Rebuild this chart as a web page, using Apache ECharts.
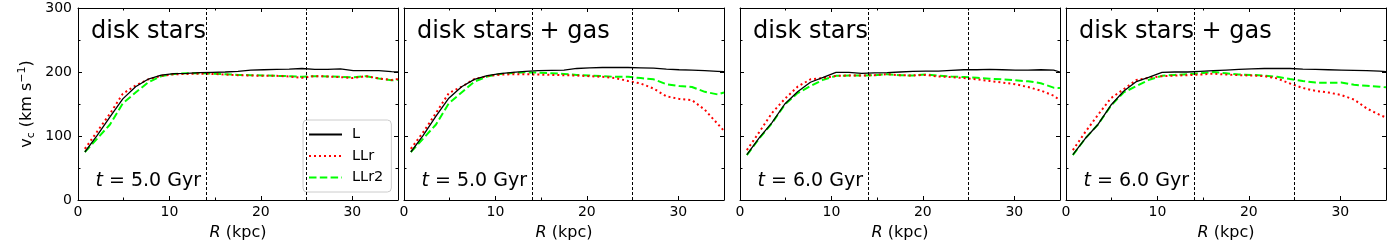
<!DOCTYPE html>
<html>
<head>
<meta charset="utf-8">
<script src="https://cdn.jsdelivr.net/npm/echarts@6/dist/echarts.min.js"></script>
<style>
html,body{margin:0;padding:0;background:#fff;}
#chart{width:1400px;height:250px;}
</style>
</head>
<body>
<div id="chart"></div>
<script>
// ---- data ----
const R = [0.75, 2.1, 3.5, 4.9, 6.3, 7.7, 9.1, 10.5, 11.9, 13.3, 14.7, 16.1, 17.5, 18.9, 20.3, 21.7, 23.1, 24.5, 25.9, 27.3, 28.7, 30.1, 31.5, 32.9, 34.3, 35];

const panelTitles = ['disk stars', 'disk stars + gas', 'disk stars', 'disk stars + gas'];
const panelTimes = ['5.0', '5.0', '6.0', '6.0'];
const seriesNames = ['L', 'LLr', 'LLr2'];
const boundaries = [14, 25];
const xTickValues = [0, 10, 20, 30];
const xMinorValues = [5, 15, 25];

// panel 1: t = 5.0 Gyr, disk stars
const p1_L    = [75, 101, 130, 158, 177, 189, 195, 197.5, 198, 199, 199.5, 200, 201, 203, 203.5, 204, 204.5, 205.5, 204, 204, 205, 202, 202, 202, 200.5, 200];
const p1_LLr  = [80, 107, 135, 166, 179, 188.5, 194, 196.5, 197, 197.5, 197, 196, 195, 194.5, 194, 194, 193, 191, 193.5, 193, 192, 190.5, 193.5, 190, 187.5, 189];
const p1_LLr2 = [75, 96, 118, 151, 168, 184, 193.5, 197, 198, 198, 197.5, 196.5, 195.5, 195, 194.5, 194, 193.5, 192.5, 193.5, 193, 192.5, 191.5, 193.5, 190, 187, 188];

// panel 2: t = 5.0 Gyr, disk stars + gas
const p2_L    = [75, 101, 131, 159, 177, 188.5, 194.5, 197.5, 199.5, 201, 202, 202.5, 203, 205.5, 206.5, 207, 207.3, 207, 206.5, 206, 204.5, 203.5, 203, 202, 201, 200.5];
const p2_LLr  = [80, 106, 136, 167, 177, 189, 193.5, 196, 196.5, 196.5, 196, 195.5, 195, 194.5, 193.5, 192.5, 190.5, 186, 182, 174, 162, 158, 156, 141, 119, 108];
const p2_LLr2 = [75, 96, 118, 151, 168, 185, 193, 197, 198.5, 199.5, 199, 198, 197, 195.5, 194.5, 193.5, 192.5, 192.5, 190.5, 188.5, 181, 178, 176.5, 169, 165, 168];

// panel 3: t = 6.0 Gyr, disk stars
const p3_L    = [71, 97, 121, 150, 169, 184, 191.5, 199.5, 199.5, 198, 198.5, 199, 200, 201, 201.5, 201.5, 202.5, 203.5, 203.5, 204, 203.5, 203, 203, 203.5, 203, 200];
const p3_LLr  = [78, 106, 136, 158, 177, 188.5, 190.5, 194, 194.5, 194.5, 195, 196.5, 195, 194.5, 195.5, 193, 192, 190.5, 188.5, 186, 183.5, 181, 176.5, 171, 163, 156];
const p3_LLr2 = [70, 96, 120, 149, 167, 178, 188, 194, 194.5, 194.5, 195, 196.5, 195, 194.5, 196, 194.5, 193, 192, 191, 189.5, 188.5, 187, 185.5, 182.5, 175.5, 175];

// panel 4: t = 6.0 Gyr, disk stars + gas
const p4_L    = [71, 96, 118, 148, 170, 185, 192, 199.5, 200, 200, 201, 202, 203, 204, 205, 205.5, 205.5, 205.5, 204.5, 204, 203.5, 203, 202.5, 202, 201.5, 200.5];
const p4_LLr  = [78, 106, 133, 159, 173, 187.5, 191, 193.5, 194.5, 195, 196, 197.5, 196, 195, 194.5, 193.5, 190, 182, 175, 170.5, 168, 164, 157, 143, 133, 129];
const p4_LLr2 = [70, 96, 118, 147, 168, 178, 188, 194, 195.5, 196.5, 198, 200, 198, 196, 195.5, 194.5, 192.5, 189, 186, 183.5, 183, 183.5, 180, 178.5, 177, 176];

const panelData = [
  [p1_L, p1_LLr, p1_LLr2],
  [p2_L, p2_LLr, p2_LLr2],
  [p3_L, p3_LLr, p3_LLr2],
  [p4_L, p4_LLr, p4_LLr2]
];

// ---- layout / style ----
const FONT = 'DejaVu Sans';
const gridLefts = [78, 404, 740, 1066];
const gridW = 320;
const gridTop = 8;
const gridH = 192;
const colors = ['#000000', '#ff0000', '#00ff00'];
const lineTypes = ['solid', [2, 3], [7.5, 3.3]];
const lineWidths = [1.3, 2, 2];

const grids = [], xAxes = [], yAxes = [], series = [], titles = [];

gridLefts.forEach((left, g) => {
  grids.push({left: left, top: gridTop, width: gridW, height: gridH, containLabel: false});
  const baseX = {type: 'value', gridIndex: g, min: 0, max: 35, splitLine: {show: false}};
  // bottom major
  xAxes.push(Object.assign({}, baseX, {
    position: 'bottom',
    axisLine: {show: true, onZero: false, lineStyle: {color: '#000', width: 1}},
    axisTick: {show: true, inside: true, length: 4, customValues: xTickValues, lineStyle: {color: '#000'}},
    axisLabel: {show: true, customValues: xTickValues, margin: 5, color: '#000', fontSize: 14, fontFamily: FONT},
    name: '{i|R} (kpc)', nameLocation: 'middle', nameGap: 25,
    nameTextStyle: {color: '#000', fontSize: 16, fontFamily: FONT, rich: {i: {fontStyle: 'italic', fontSize: 16, fontFamily: FONT, color: '#000'}}}
  }));
  // bottom minor
  xAxes.push(Object.assign({}, baseX, {
    position: 'bottom',
    axisLine: {show: false, onZero: false},
    axisTick: {show: true, inside: true, length: 2.5, customValues: xMinorValues, lineStyle: {color: '#000'}},
    axisLabel: {show: false}
  }));
  // top major
  xAxes.push(Object.assign({}, baseX, {
    position: 'top',
    axisLine: {show: true, onZero: false, lineStyle: {color: '#000', width: 1}},
    axisTick: {show: true, inside: true, length: 4, customValues: xTickValues, lineStyle: {color: '#000'}},
    axisLabel: {show: false}
  }));
  // top minor
  xAxes.push(Object.assign({}, baseX, {
    position: 'top',
    axisLine: {show: false, onZero: false},
    axisTick: {show: true, inside: true, length: 2.5, customValues: xMinorValues, lineStyle: {color: '#000'}},
    axisLabel: {show: false}
  }));

  const baseY = {type: 'value', gridIndex: g, min: 0, max: 300, interval: 100, splitLine: {show: false},
    axisLine: {show: true, onZero: false, lineStyle: {color: '#000', width: 1}},
    axisTick: {show: true, inside: true, length: 4, lineStyle: {color: '#000'}},
    minorTick: {show: true, splitNumber: 2, length: 2.5, lineStyle: {color: '#000'}},
    minorSplitLine: {show: false}
  };
  yAxes.push(Object.assign({}, baseY, {
    position: 'left',
    axisLabel: {show: g === 0, margin: 6, color: '#000', fontSize: 14, fontFamily: FONT},
    name: g === 0 ? '{m|v}{s|c}{m| (km s}{p|−1}{m|)}' : '',
    nameLocation: 'middle', nameRotate: 90, nameGap: 41,
    nameTextStyle: {color: '#000', fontSize: 16, fontFamily: FONT,
      rich: {
        m: {fontSize: 16, lineHeight: 20, fontFamily: FONT, color: '#000', verticalAlign: 'middle'},
        s: {fontSize: 11, lineHeight: 11, fontFamily: FONT, color: '#000', verticalAlign: 'bottom'},
        p: {fontSize: 11, lineHeight: 11, fontFamily: FONT, color: '#000', verticalAlign: 'top'}
      }}
  }));
  yAxes.push(Object.assign({}, baseY, {
    position: 'right',
    axisLabel: {show: false}
  }));

  seriesNames.forEach((name, k) => {
    const vals = panelData[g][k];
    const s = {
      name: name, type: 'line', xAxisIndex: 4 * g, yAxisIndex: 2 * g,
      data: R.map((r, i) => [r, vals[i]]),
      showSymbol: false, symbol: 'none', smooth: false, clip: true, animation: false,
      lineStyle: {color: colors[k], width: lineWidths[k], type: lineTypes[k]},
      itemStyle: {color: colors[k]},
      z: 3 - k
    };
    if (k === 0) {
      s.markLine = {
        silent: true, symbol: ['none', 'none'], animation: false,
        label: {show: false},
        lineStyle: {color: '#000', width: 1, type: [3, 2]},
        data: boundaries.map(b => ({xAxis: b}))
      };
    }
    series.push(s);
  });

  titles.push({
    text: panelTitles[g], left: left + 13, top: 20, padding: 0,
    textStyle: {fontSize: 24, fontWeight: 'normal', color: '#000', fontFamily: FONT}
  });
  titles.push({
    text: '{i|t} = ' + panelTimes[g] + ' Gyr', left: left + 17.5, top: 172, padding: 0,
    textStyle: {fontSize: 19, fontWeight: 'normal', color: '#000', fontFamily: FONT,
      rich: {i: {fontStyle: 'italic', fontSize: 19, fontFamily: FONT, color: '#000'}}}
  });
});

const chart = echarts.init(document.getElementById('chart'), null, {renderer: 'canvas'});
chart.setOption({
  backgroundColor: '#ffffff',
  animation: false,
  title: titles,
  grid: grids,
  xAxis: xAxes,
  yAxis: yAxes,
  legend: {
    data: seriesNames,
    orient: 'vertical', left: 303, top: 120,
    padding: [7, 8, 7, 5],
    itemWidth: 33, itemHeight: 14, itemGap: 6.5,
    itemStyle: {opacity: 0},
    backgroundColor: 'rgba(255,255,255,0.8)',
    borderColor: '#cccccc', borderWidth: 1, borderRadius: 4,
    textStyle: {color: '#000', fontSize: 14.5, fontFamily: FONT, padding: [0, 0, 0, 5]},
    selectedMode: false
  },
  series: series
});
</script>
</body>
</html>
